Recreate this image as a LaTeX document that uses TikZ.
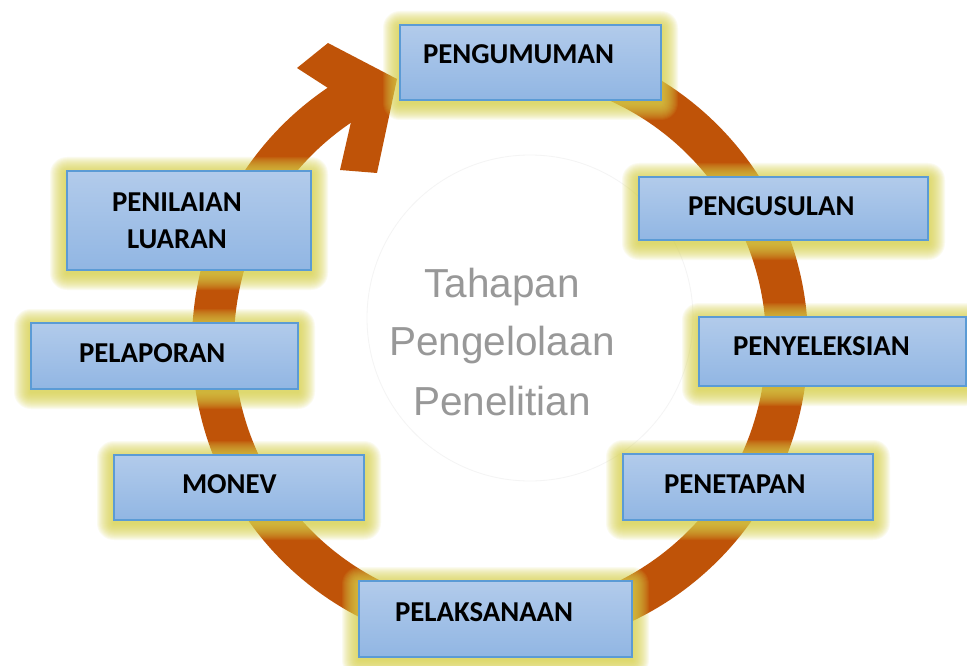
\documentclass[tikz,border=0pt]{standalone}
\usepackage{fontspec}
\setmainfont{Carlito}
\newfontfamily\arialf{Liberation Sans}
\definecolor{ringc}{RGB}{191,83,8}
\definecolor{glowc}{RGB}{218,212,78}
\definecolor{boxtop}{RGB}{178,203,235}
\definecolor{boxbot}{RGB}{145,182,227}
\definecolor{boxline}{RGB}{91,155,213}
\definecolor{ctrgray}{RGB}{152,152,152}
\definecolor{faintc}{RGB}{244,244,244}
\tikzset{
  stagebox/.style={draw=boxline, line width=1.1pt, top color=boxtop, bottom color=boxbot, inner sep=0pt, outer sep=0pt},
  stagelbl/.style={font=\fontsize{28.8}{37.5}\selectfont\bfseries, text=black, inner sep=0pt, outer sep=0pt},
  ctrlbl/.style={font=\arialf\fontsize{40.5}{47}\selectfont, text=ctrgray, inner sep=0pt, outer sep=0pt, anchor=base},
  ringline/.style={draw=ringc, line width=42pt},
}
\newcommand{\glowrect}[4]{%
  \foreach \k in {1,...,17}{%
    \fill[glowc, fill opacity=0.085, rounded corners=\k pt] ({#1-\k},{#2-\k+3}) rectangle ({#3+\k},{#4+\k+3});
  }}
\newcommand{\stagenode}[5]{%
  \node[stagebox, minimum width={(#4-#2)*1pt}, minimum height={(#5-#3)*1pt}] (#1) at ({(#2+#4)/2},{(#3+#5)/2}) {};}
\begin{document}
\begin{tikzpicture}[x=1pt,y=-1pt]
  \fill[white] (0,0) rectangle (967,666);
  \useasboundingbox (0,0) rectangle (967,666);
  % faint background circle
  \draw[faintc, line width=0.8pt] (530,318) circle[radius=163];
  % ring with arrow
  \coordinate (ctr) at (500,343);
  \draw[ringline] (ctr) ++(-80:287) arc[start angle=-80, end angle=237, radius=287];
  \fill[ringc] (328,88) -- (297,68) -- (328,43) -- (397,79) -- (377,173) -- (340,170) -- (351,122) -- cycle;
  % centre text
  \node[ctrlbl] (c1) at (502,297) {Tahapan};
  \node[ctrlbl] (c2) at (502,355) {Pengelolaan};
  \node[ctrlbl] (c3) at (502,415) {Penelitian};
  % glows
  \glowrect{400}{25}{661}{100}
  \glowrect{639}{177}{928}{240}
  \glowrect{699}{317}{966}{386}
  \glowrect{623}{454}{873}{520}
  \glowrect{359}{581}{632}{657}
  \glowrect{114}{455}{364}{520}
  \glowrect{31}{323}{298}{389}
  \glowrect{67}{171}{311}{270}
  % boxes
  \stagenode{pengumuman}{400}{25}{661}{100}
  \stagenode{pengusulan}{639}{177}{928}{240}
  \stagenode{penyeleksian}{699}{317}{966}{386}
  \stagenode{penetapan}{623}{454}{873}{520}
  \stagenode{pelaksanaan}{359}{581}{632}{657}
  \stagenode{monev}{114}{455}{364}{520}
  \stagenode{pelaporan}{31}{323}{298}{389}
  \stagenode{penilaian}{67}{171}{311}{270}
  % labels
  \node[stagelbl, anchor=base west] (l1) at (423,64) {PENGUMUMAN};
  \node[stagelbl, anchor=base west] (l2) at (688,215) {PENGUSULAN};
  \node[stagelbl, anchor=base west] (l3) at (733,355) {PENYELEKSIAN};
  \node[stagelbl, anchor=base west] (l4) at (664,493) {PENETAPAN};
  \node[stagelbl, anchor=base west] (l5) at (395,621) {PELAKSANAAN};
  \node[stagelbl, anchor=base west] (l6) at (182,493) {MONEV};
  \node[stagelbl, anchor=base west] (l7) at (79,362) {PELAPORAN};
  \node[stagelbl, anchor=north, align=center] (l8) at (177,192.5) {PENILAIAN\\LUARAN};
\end{tikzpicture}
\end{document}
